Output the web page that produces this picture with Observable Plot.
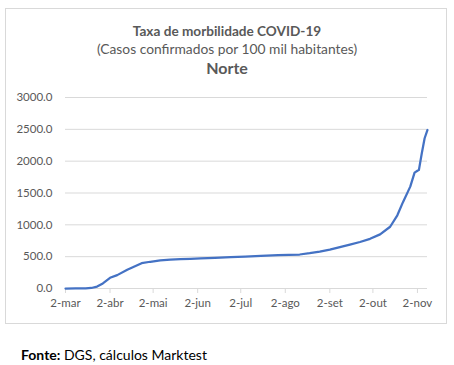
<!DOCTYPE html>
<html>
<head>
<meta charset="utf-8">
<script src="https://cdn.jsdelivr.net/npm/d3@7"></script>
<script src="https://cdn.jsdelivr.net/npm/@observablehq/plot@0.6"></script>
<style>
  html, body { margin: 0; padding: 0; background: #fff; }
  body { width: 454px; height: 365px; position: relative; overflow: hidden; font-family: Lato, "Open Sans", sans-serif; color: #595959; }
  #frame { position: absolute; left: 5px; top: 8px; width: 442px; height: 316px; box-sizing: border-box; border: 1px solid #d9d9d9; }
  .t { position: absolute; left: 0; width: 454px; text-align: center; white-space: nowrap; }
  #title { top: 24px; font-size: 13.6px; line-height: 15px; font-weight: bold; }
  #subtitle { top: 41px; font-size: 13.8px; line-height: 15px; }
  #region { top: 58px; font-size: 16px; line-height: 20px; font-weight: bold; }
  #chart { position: absolute; left: 0; top: 80px; }
  #source { position: absolute; left: 21px; top: 346px; font-size: 14px; color: #000; white-space: nowrap; }
</style>
</head>
<body>
<div id="frame"></div>
<div class="t" id="title">Taxa de morbilidade COVID-19</div>
<div class="t" id="subtitle">(Casos confirmados por 100 mil habitantes)</div>
<div class="t" id="region">Norte</div>
<div id="chart"></div>
<div id="source"><b>Fonte:</b> DGS, cálculos Marktest</div>
<script>
// Data (cumulative cases per 100k, Norte)
const dates = [
  "2020-03-02","2020-03-09","2020-03-16","2020-03-20","2020-03-24","2020-03-28",
  "2020-04-02","2020-04-07","2020-04-14","2020-04-19","2020-04-24","2020-04-30",
  "2020-05-07","2020-05-14","2020-05-21","2020-05-28","2020-06-04","2020-06-14",
  "2020-06-25","2020-07-05","2020-07-16","2020-07-28","2020-08-12","2020-08-19",
  "2020-08-26","2020-09-02","2020-09-09","2020-09-16","2020-09-23","2020-09-30",
  "2020-10-07","2020-10-14","2020-10-19","2020-10-23","2020-10-28","2020-10-31",
  "2020-11-02","2020-11-03","2020-11-05","2020-11-07","2020-11-09"
];
const values = [
  0, 0.5, 3, 8, 30, 80,
  168, 210, 294, 345, 398, 420,
  440, 452, 460, 466, 472, 482,
  492, 502, 514, 524, 534, 555,
  580, 612, 650, 690, 730, 780,
  850, 970, 1150, 1360, 1600, 1820,
  1850, 1860, 2120, 2360, 2490
];
const tickDates = ["2020-03-02","2020-04-02","2020-05-02","2020-06-02","2020-07-02","2020-08-02","2020-09-02","2020-10-02","2020-11-02"];
const tickLabels = ["2-mar","2-abr","2-mai","2-jun","2-jul","2-ago","2-set","2-out","2-nov"];
const yTicks = [0, 500, 1000, 1500, 2000, 2500, 3000];
const xStart = "2020-03-02";
const xEnd = "2020-11-09";

const data = dates.map((d, i) => ({date: new Date(d), value: values[i]}));
const tickD = tickDates.map(d => new Date(d));
const labelOf = new Map(tickD.map((d, i) => [+d, tickLabels[i]]));

const chart = Plot.plot({
  width: 454,
  height: 240,
  marginLeft: 65,
  marginRight: 27,
  marginTop: 17,
  marginBottom: 32,
  style: {fontFamily: "Lato, 'Open Sans', sans-serif", color: "#595959", background: "transparent"},
  x: {type: "utc", domain: [new Date(xStart), new Date(xEnd)]},
  y: {domain: [0, 3000]},
  marks: [
    Plot.gridY(yTicks.filter(v => v > 0), {stroke: "#d9d9d9", strokeOpacity: 1, strokeWidth: 1}),
    Plot.ruleY([0], {stroke: "#d9d9d9", strokeWidth: 1}),
    Plot.axisY(yTicks, {tickSize: 0, tickPadding: 13, tickFormat: d => d.toFixed(1), fontSize: 11.5, fill: "#595959", label: null}),
    Plot.axisX(tickD, {tickSize: 5, tickPadding: 5, stroke: "#d9d9d9", tickFormat: d => labelOf.get(+d), fontSize: 11.5, fill: "#595959", label: null}),
    Plot.line(data, {x: "date", y: "value", stroke: "#4472C4", strokeWidth: 2.25, curve: "linear"})
  ]
});
document.getElementById("chart").appendChild(chart);
</script>
</body>
</html>
